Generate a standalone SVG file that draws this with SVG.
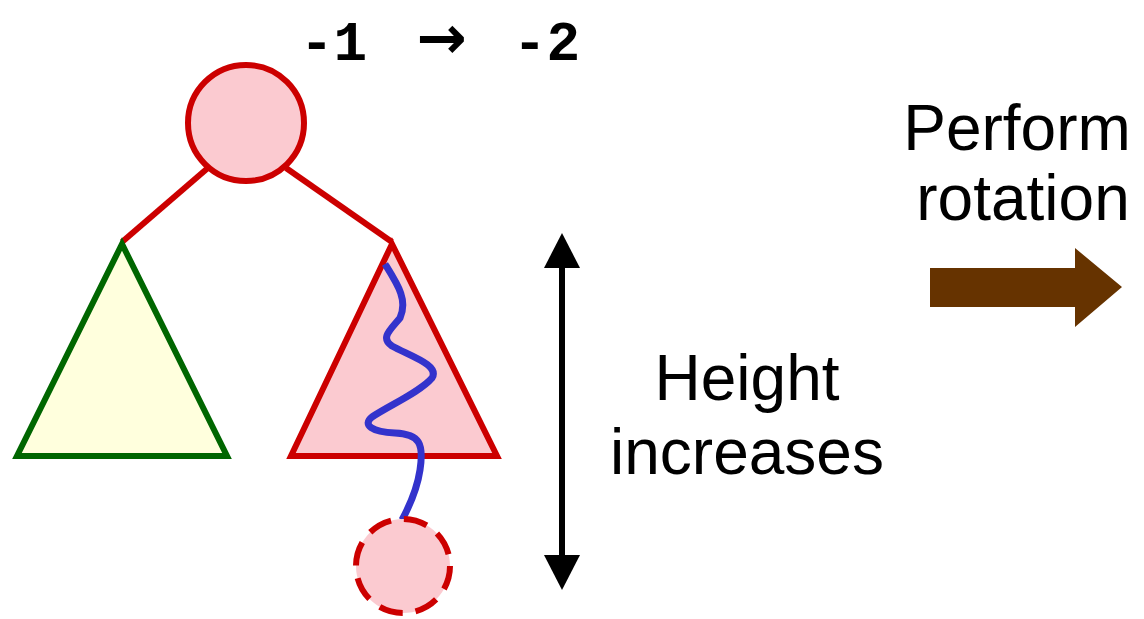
<svg xmlns="http://www.w3.org/2000/svg" width="1144" height="619" viewBox="0 0 1144 619">
<style>
.red{stroke:#CC0000;stroke-width:6;fill:#FBCAD0}
.edge{stroke:#CC0000;stroke-width:6;fill:none}
.lbl{font-family:"Liberation Sans",Arial,sans-serif;font-size:64px;fill:#000;text-anchor:middle}
.mono{font-family:"Liberation Mono","Courier New",monospace;font-size:56px;font-weight:bold;fill:#000}
</style>
<rect width="1144" height="619" fill="#fff"/>
<g id="connectors">
<line class="edge" x1="209" y1="167" x2="122" y2="242"/>
<line class="edge" x1="286" y1="168" x2="392" y2="242"/>
</g>
<g id="root"><circle class="red" cx="246" cy="123" r="58"/></g>
<g id="left-subtree"><polygon points="122,244 17,456 227,456" fill="#FFFFDD" stroke="#006600" stroke-width="6" stroke-linejoin="miter"/></g>
<g id="right-subtree"><polygon class="red" points="392,244 291,456 497,456"/></g>
<g id="path"><path d="M385,264 C398,285 408,300 400,318 C390,330 380,338 392,346 C410,356 440,365 432,378 C420,392 390,405 372,417 C362,425 372,432 395,433 C420,434 424,444 420,470 C417,490 410,505 402,520" fill="none" stroke="#3333CC" stroke-width="7" stroke-linecap="butt"/></g>
<g id="new-node"><circle cx="403" cy="566" r="47" fill="#FBCAD0" stroke="#CC0000" stroke-width="6" stroke-dasharray="24,13"/></g>
<g id="balance"><text class="mono" x="300" y="60">-1</text><text x="442" y="58" font-family="DejaVu Sans,sans-serif" font-weight="bold" font-size="60" text-anchor="middle">→</text><text class="mono" x="513" y="60">-2</text></g>
<g id="height-arrow">
<line x1="562" y1="262" x2="562" y2="560" stroke="#000" stroke-width="6"/>
<polygon points="562,233 580,268 544,268" fill="#000"/>
<polygon points="562,590 580,555 544,555" fill="#000"/>
<text class="lbl" x="747" y="400">Height</text>
<text class="lbl" x="747" y="474">increases</text>
</g>
<g id="rotation">
<text class="lbl" x="1017" y="150">Perform</text>
<text class="lbl" x="1023" y="220">rotation</text>
<polygon points="930,268 1075,268 1075,248 1122,287 1075,327 1075,307 930,307" fill="#663300"/>
</g>
</svg>
